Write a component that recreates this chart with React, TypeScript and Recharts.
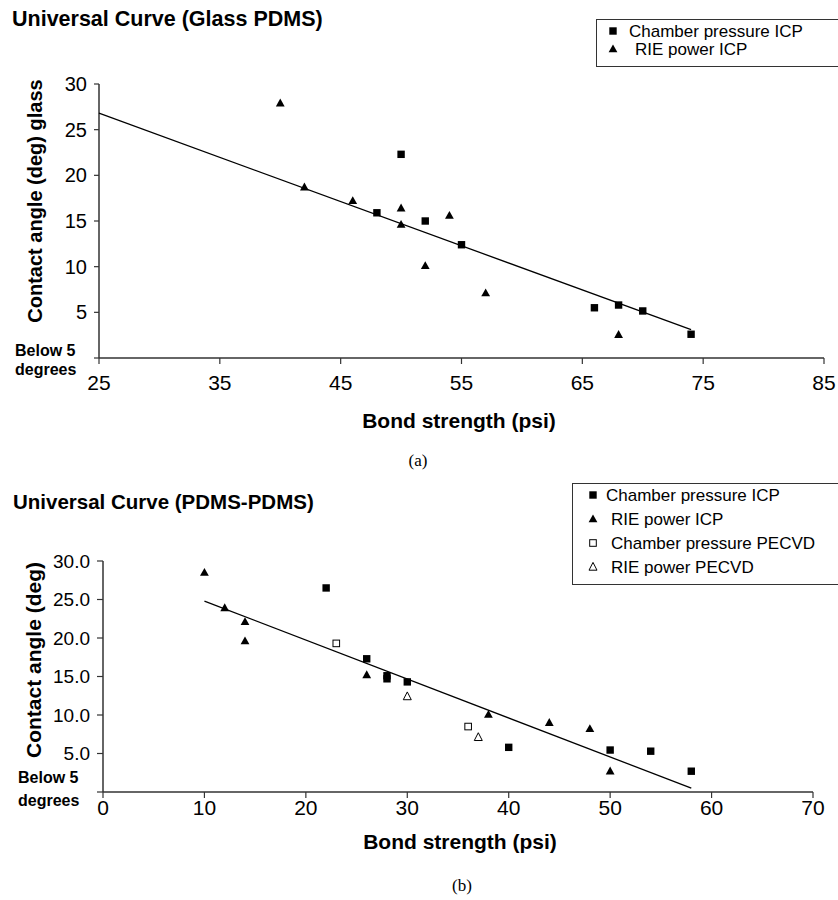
import React from "react"
import { ScatterChart, Scatter, XAxis, YAxis, Legend } from "recharts"

const FONT = "Arial, 'Liberation Sans', Helvetica, sans-serif"
const SERIF = "'Times New Roman', 'Liberation Serif', serif"

// (a) Glass PDMS
const glassTicksX = [25, 35, 45, 55, 65, 75, 85]
const glassTicksY = [0, 5, 10, 15, 20, 25, 30]
const glassChamberICP = [
  { x: 50, y: 22.3 },
  { x: 48, y: 15.9 },
  { x: 52, y: 15.0 },
  { x: 55, y: 12.4 },
  { x: 66, y: 5.5 },
  { x: 68, y: 5.8 },
  { x: 70, y: 5.15 },
  { x: 74, y: 2.6 },
]
const glassRieICP = [
  { x: 40, y: 27.9 },
  { x: 42, y: 18.7 },
  { x: 46, y: 17.2 },
  { x: 50, y: 16.4 },
  { x: 50, y: 14.6 },
  { x: 54, y: 15.6 },
  { x: 52, y: 10.1 },
  { x: 57, y: 7.1 },
  { x: 68, y: 2.55 },
]
const glassTrend = [
  { x: 25, y: 26.8 },
  { x: 74, y: 3.1 },
]

// (b) PDMS-PDMS
const pdmsTicksX = [0, 10, 20, 30, 40, 50, 60, 70]
const pdmsTicksY = [0, 5, 10, 15, 20, 25, 30]
const pdmsChamberICP = [
  { x: 22, y: 26.5 },
  { x: 26, y: 17.3 },
  { x: 28, y: 15.1 },
  { x: 28, y: 14.7 },
  { x: 30, y: 14.3 },
  { x: 40, y: 5.8 },
  { x: 50, y: 5.45 },
  { x: 54, y: 5.3 },
  { x: 58, y: 2.7 },
]
const pdmsRieICP = [
  { x: 10, y: 28.5 },
  { x: 12, y: 23.9 },
  { x: 14, y: 22.1 },
  { x: 14, y: 19.6 },
  { x: 26, y: 15.2 },
  { x: 38, y: 10.05 },
  { x: 44, y: 9.0 },
  { x: 48, y: 8.2 },
  { x: 50, y: 2.7 },
]
const pdmsChamberPECVD = [
  { x: 23, y: 19.3 },
  { x: 36, y: 8.5 },
]
const pdmsRiePECVD = [
  { x: 30, y: 12.4 },
  { x: 37, y: 7.1 },
]
const pdmsTrend = [
  { x: 10, y: 24.8 },
  { x: 58, y: 0.5 },
]

type MarkerKind = "square" | "triangle" | "openSquare" | "openTriangle"

function Marker({ kind, cx, cy }: { kind: MarkerKind; cx: number; cy: number }) {
  if (kind === "square" || kind === "openSquare") {
    const open = kind === "openSquare"
    const s = open ? 6.6 : 7.4
    return (
      <rect
        x={cx - s / 2}
        y={cy - s / 2}
        width={s}
        height={s}
        fill={open ? "#fff" : "#000"}
        stroke="#000"
        strokeWidth={open ? 1 : 0}
      />
    )
  }
  const open = kind === "openTriangle"
  const w = open ? 4 : 4.4
  const pts = `${cx},${cy - 4.6} ${cx + w},${cy + 3.2} ${cx - w},${cy + 3.2}`
  return <polygon points={pts} fill={open ? "#fff" : "#000"} stroke="#000" strokeWidth={open ? 1 : 0} />
}

const shapeOf = (kind: MarkerKind) => (props: any) => <Marker kind={kind} cx={props.cx} cy={props.cy} />
const noShape = () => <g />

interface LegendRow {
  label: string
  kind: MarkerKind
  y: number
  textX: number
}

function LegendBox({ rows, markerX }: { rows: LegendRow[]; markerX: number }) {
  return (
    <div
      style={{
        position: "relative",
        width: "100%",
        height: "100%",
        boxSizing: "border-box",
        border: "1.5px solid #333",
        background: "#fff",
        fontFamily: FONT,
        fontSize: 17,
        color: "#000",
      }}
    >
      {rows.map((r) => (
        <React.Fragment key={r.label}>
          <svg
            width={14}
            height={14}
            style={{ position: "absolute", left: markerX - 7, top: r.y - 7, overflow: "visible" }}
          >
            <Marker kind={r.kind} cx={7} cy={7} />
          </svg>
          <div
            style={{
              position: "absolute",
              left: r.textX,
              top: r.y - 0.49 * 17,
              lineHeight: 1,
              whiteSpace: "nowrap",
            }}
          >
            {r.label}
          </div>
        </React.Fragment>
      ))}
    </div>
  )
}

function Txt({
  x,
  y,
  size,
  bold,
  anchor = "start",
  rotate,
  family = FONT,
  children,
}: {
  x: number
  y: number
  size: number
  bold?: boolean
  anchor?: "start" | "middle"
  rotate?: boolean
  family?: string
  children: React.ReactNode
}) {
  const shiftX = anchor === "middle" || rotate ? "-50%" : "0"
  return (
    <div
      style={{
        position: "absolute",
        left: x,
        top: rotate ? y : y - 0.49 * size,
        fontSize: size,
        fontWeight: bold ? 700 : 400,
        fontFamily: family,
        lineHeight: 1,
        whiteSpace: "nowrap",
        color: "#000",
        transform: rotate ? `translate(-50%, -50%) rotate(-90deg)` : `translateX(${shiftX})`,
      }}
    >
      {children}
    </div>
  )
}

const axisLine = { stroke: "#333", strokeWidth: 1.5 }
const tickLine = { stroke: "#333", strokeWidth: 1.2 }

export default function App() {
  return (
    <div
      style={{
        position: "absolute",
        left: 0,
        top: 0,
        width: 838,
        height: 900,
        overflow: "hidden",
        background: "#fff",
      }}
    >
      <div style={{ position: "absolute", left: 0, top: 0 }}>
        <ScatterChart width={838} height={440} margin={{ top: 84, right: 14, bottom: 0, left: 0 }}>
          <XAxis
            type="number"
            dataKey="x"
            domain={[25, 85]}
            ticks={glassTicksX}
            height={82}
            axisLine={axisLine}
            tickLine={tickLine}
            tickSize={6}
            tickMargin={11}
            tick={{ fill: "#000", fontSize: 21, fontFamily: FONT }}
          />
          <YAxis
            type="number"
            dataKey="y"
            domain={[0, 30]}
            ticks={glassTicksY}
            width={99}
            axisLine={axisLine}
            tickLine={tickLine}
            tickSize={5}
            tickMargin={7}
            tickFormatter={(v: number) => (v === 0 ? "" : String(v))}
            tick={{ fill: "#000", fontSize: 20, fontFamily: FONT }}
          />
          <Legend
            layout="horizontal"
            verticalAlign="middle"
            wrapperStyle={{ position: "absolute", left: 596, top: 19, width: 260, height: 48 }}
            content={() => (
              <LegendBox
                markerX={15.7}
                rows={[
                  { label: "Chamber pressure ICP", kind: "square", y: 11, textX: 32 },
                  { label: "RIE power ICP", kind: "triangle", y: 29, textX: 38 },
                ]}
              />
            )}
          />
          <Scatter
            name="trend"
            data={glassTrend}
            line={{ stroke: "#000", strokeWidth: 1.3 }}
            shape={noShape}
            legendType="none"
            isAnimationActive={false}
          />
          <Scatter name="Chamber pressure ICP" data={glassChamberICP} shape={shapeOf("square")} isAnimationActive={false} />
          <Scatter name="RIE power ICP" data={glassRieICP} shape={shapeOf("triangle")} isAnimationActive={false} />
        </ScatterChart>
      </div>

      <div style={{ position: "absolute", left: 0, top: 470 }}>
        <ScatterChart width={838} height={430} margin={{ top: 91, right: 25, bottom: 0, left: 0 }}>
          <XAxis
            type="number"
            dataKey="x"
            domain={[0, 70]}
            ticks={pdmsTicksX}
            height={108}
            axisLine={axisLine}
            tickLine={tickLine}
            tickSize={6}
            tickMargin={2}
            tick={{ fill: "#000", fontSize: 21, fontFamily: FONT }}
          />
          <YAxis
            type="number"
            dataKey="y"
            domain={[0, 30]}
            ticks={pdmsTicksY}
            width={103}
            axisLine={axisLine}
            tickLine={tickLine}
            tickSize={6}
            tickMargin={7}
            tickFormatter={(v: number) => (v === 0 ? "" : v.toFixed(1))}
            tick={{ fill: "#000", fontSize: 19, fontFamily: FONT }}
          />
          <Legend
            layout="horizontal"
            verticalAlign="middle"
            wrapperStyle={{ position: "absolute", left: 572, top: 13, width: 290, height: 102 }}
            content={() => (
              <LegendBox
                markerX={20}
                rows={[
                  { label: "Chamber pressure ICP", kind: "square", y: 11, textX: 33 },
                  { label: "RIE power ICP", kind: "triangle", y: 35, textX: 38 },
                  { label: "Chamber pressure PECVD", kind: "openSquare", y: 59, textX: 38 },
                  { label: "RIE power PECVD", kind: "openTriangle", y: 83, textX: 38 },
                ]}
              />
            )}
          />
          <Scatter
            name="trend"
            data={pdmsTrend}
            line={{ stroke: "#000", strokeWidth: 1.3 }}
            shape={noShape}
            legendType="none"
            isAnimationActive={false}
          />
          <Scatter name="Chamber pressure ICP" data={pdmsChamberICP} shape={shapeOf("square")} isAnimationActive={false} />
          <Scatter name="RIE power ICP" data={pdmsRieICP} shape={shapeOf("triangle")} isAnimationActive={false} />
          <Scatter
            name="Chamber pressure PECVD"
            data={pdmsChamberPECVD}
            shape={shapeOf("openSquare")}
            isAnimationActive={false}
          />
          <Scatter name="RIE power PECVD" data={pdmsRiePECVD} shape={shapeOf("openTriangle")} isAnimationActive={false} />
        </ScatterChart>
      </div>

      <div style={{ position: "absolute", inset: 0, pointerEvents: "none" }}>
        <Txt x={12} y={20} size={21.5} bold>
          Universal Curve (Glass PDMS)
        </Txt>
        <Txt x={35} y={201} size={20} bold rotate>
          Contact angle (deg) glass
        </Txt>
        <Txt x={15} y={351} size={16} bold>
          Below 5
        </Txt>
        <Txt x={15} y={370} size={16} bold>
          degrees
        </Txt>
        <Txt x={459} y={420} size={21} bold anchor="middle">
          Bond strength (psi)
        </Txt>
        <Txt x={418} y={460} size={17} anchor="middle" family={SERIF}>
          (a)
        </Txt>

        <Txt x={13} y={502} size={20.5} bold>
          Universal Curve (PDMS-PDMS)
        </Txt>
        <Txt x={33} y={660} size={21} bold rotate>
          Contact angle (deg)
        </Txt>
        <Txt x={18} y={778} size={16} bold>
          Below 5
        </Txt>
        <Txt x={18} y={801} size={16} bold>
          degrees
        </Txt>
        <Txt x={460} y={841} size={21} bold anchor="middle">
          Bond strength (psi)
        </Txt>
        <Txt x={462} y={885} size={17} anchor="middle" family={SERIF}>
          (b)
        </Txt>
      </div>
    </div>
  )
}
